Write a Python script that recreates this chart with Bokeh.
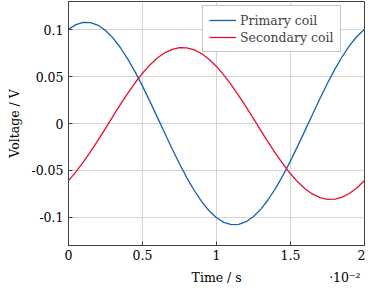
from bokeh.plotting import figure
from bokeh.models import (Range1d, FixedTicker, LinearAxis, Legend, LegendItem)
from bokeh.embed import file_html
from bokeh.resources import INLINE

# Time in units of 1e-2 s
time = [0.00, 0.05, 0.10, 0.15, 0.20, 0.25, 0.30, 0.35, 0.40, 0.45,
        0.50, 0.55, 0.60, 0.65, 0.70, 0.75, 0.80, 0.85, 0.90, 0.95,
        1.00, 1.05, 1.10, 1.15, 1.20, 1.25, 1.30, 1.35, 1.40, 1.45,
        1.50, 1.55, 1.60, 1.65, 1.70, 1.75, 1.80, 1.85, 1.90, 1.95, 2.00]

primary = [0.1004, 0.1054, 0.1078, 0.1075, 0.1046, 0.0991, 0.0912, 0.0810, 0.0688, 0.0550,
           0.0398, 0.0236, 0.0068, -0.0102, -0.0269, -0.0429, -0.0579, -0.0714, -0.0832, -0.0930,
           -0.1004, -0.1054, -0.1078, -0.1075, -0.1046, -0.0991, -0.0912, -0.0810, -0.0688, -0.0550,
           -0.0398, -0.0236, -0.0068, 0.0102, 0.0269, 0.0429, 0.0579, 0.0714, 0.0832, 0.0930, 0.1004]

secondary = [-0.0608, -0.0516, -0.0412, -0.0298, -0.0177, -0.0051, 0.0076, 0.0201, 0.0322, 0.0434,
             0.0536, 0.0624, 0.0697, 0.0753, 0.0790, 0.0808, 0.0806, 0.0785, 0.0743, 0.0684,
             0.0608, 0.0516, 0.0412, 0.0298, 0.0177, 0.0051, -0.0076, -0.0201, -0.0322, -0.0434,
             -0.0536, -0.0624, -0.0697, -0.0753, -0.0790, -0.0808, -0.0806, -0.0785, -0.0743, -0.0684, -0.0608]

x_ticks = [0, 0.5, 1, 1.5, 2]
x_tick_labels = ["0", "0.5", "1", "1.5", "2"]
y_ticks = [-0.1, -0.05, 0, 0.05, 0.1]
y_tick_labels = ["-0.1", "-0.05", "0", "0.05", "0.1"]
x_title = "Time / s"
x_scale_note = "·10⁻²"

FONT = "DejaVu Serif"
FS = "12.5px"
DARK = "#404040"
NBSP = "\u00a0"

p = figure(width=365, height=287, output_backend="svg", toolbar_location=None,
           x_range=Range1d(0, 2), y_range=Range1d(-0.13, 0.13),
           x_axis_location=None, y_axis_location=None,
           min_border_left=68, min_border_right=1, min_border_top=1, min_border_bottom=41)
p.background_fill_color = "white"
p.border_fill_color = "white"
p.outline_line_color = DARK
p.outline_line_width = 1

xt = FixedTicker(ticks=x_ticks)
yt = FixedTicker(ticks=y_ticks)

def style(ax):
    ax.axis_line_color = DARK
    ax.major_tick_line_color = DARK
    ax.major_tick_in = 4
    ax.major_tick_out = 0
    ax.minor_tick_line_color = None
    ax.major_label_text_font = FONT
    ax.major_label_text_font_size = FS
    ax.major_label_text_color = "black"
    ax.axis_label_text_font = FONT
    ax.axis_label_text_font_size = FS
    ax.axis_label_text_font_style = "normal"
    ax.axis_label_text_color = "black"

# x title centred under the frame, with the scale note pushed to the right end
x_label = NBSP * 30 + x_title + NBSP * 22 + x_scale_note
bottom = LinearAxis(ticker=xt, axis_label=x_label,
                    major_label_overrides={t: l for t, l in zip(x_ticks, x_tick_labels)})
style(bottom)
bottom.major_label_standoff = 4
bottom.axis_label_standoff = 7
p.add_layout(bottom, "below")

left = LinearAxis(ticker=yt, axis_label="Voltage / V",
                  major_label_overrides={t: l for t, l in zip(y_ticks, y_tick_labels)})
style(left)
left.major_label_standoff = 5
left.axis_label_standoff = 6
p.add_layout(left, "left")

p.xgrid.ticker = xt
p.ygrid.ticker = yt
p.xgrid.grid_line_color = "#d4d4d4"
p.ygrid.grid_line_color = "#d4d4d4"

r1 = p.line(time, primary, line_color="#1462ae", line_width=1.3)
r2 = p.line(time, secondary, line_color="#e3102e", line_width=1.3)

legend = Legend(items=[LegendItem(label="Primary coil", renderers=[r1]),
                       LegendItem(label="Secondary coil", renderers=[r2])],
                location=(134, 193))
legend.label_text_font = FONT
legend.label_text_font_size = FS
legend.glyph_width = 27
legend.glyph_height = 16
legend.label_height = 16
legend.label_standoff = 4
legend.spacing = 1
legend.padding = 6
legend.margin = 0
legend.border_line_color = "#8c8c8c"
legend.border_line_width = 1
legend.background_fill_alpha = 1
p.add_layout(legend, "center")

open("out.html", "w").write(file_html(p, INLINE))
